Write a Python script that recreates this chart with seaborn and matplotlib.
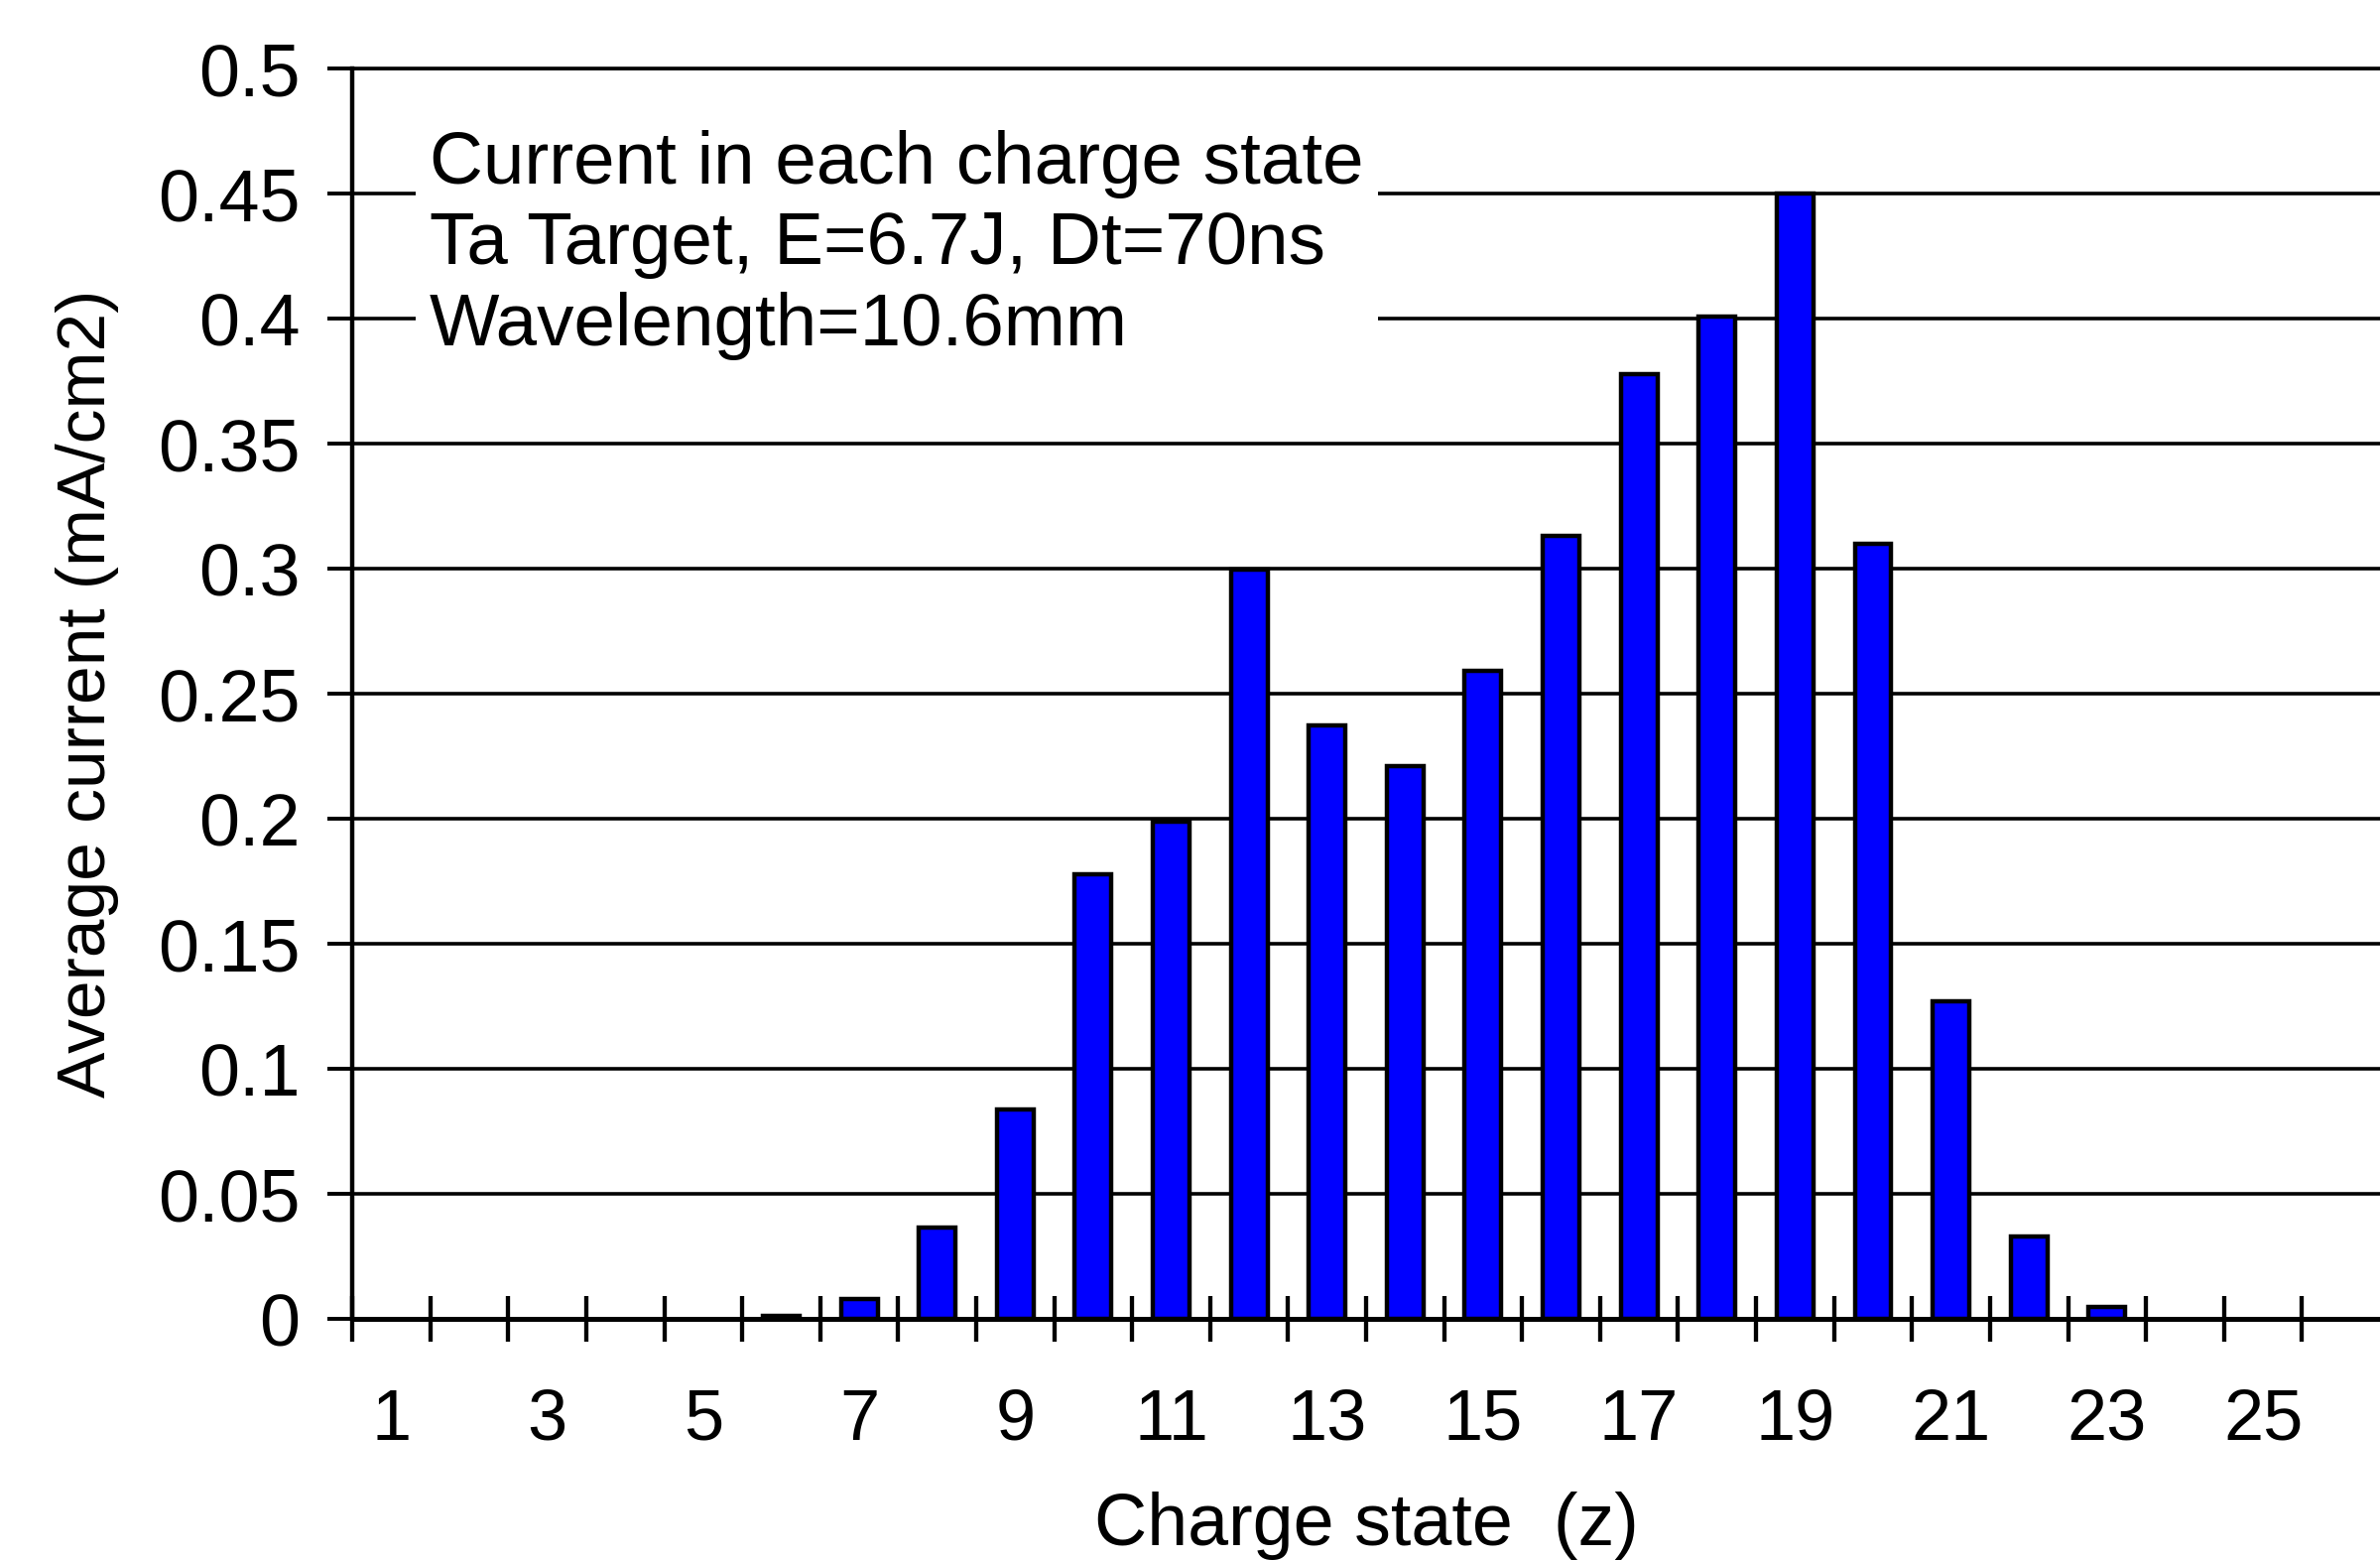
import numpy as np
import pandas as pd
import matplotlib
matplotlib.use("Agg")
import matplotlib.pyplot as plt
import seaborn as sns

# data
charge_state = list(range(1, 27))
current = [0, 0, 0, 0, 0, 0.0012, 0.0079, 0.0365, 0.0838, 0.178,
           0.1987, 0.2995, 0.2375, 0.221, 0.259, 0.313, 0.378, 0.401,
           0.450, 0.310, 0.127, 0.0328, 0.0049, 0, 0, 0]
y_ticks = [0, 0.05, 0.1, 0.15, 0.2, 0.25, 0.3, 0.35, 0.4, 0.45, 0.5]
x_labels = [str(z) for z in charge_state if z % 2 == 1]
note = "Current in each charge state\nTa Target, E=6.7J, Dt=70ns\nWavelength=10.6mm"

df = pd.DataFrame({"z": charge_state, "current": current})

sns.set_style("white")
plt.rcParams["font.family"] = ["Liberation Sans", "DejaVu Sans"]
plt.rcParams.update({"text.color": "black", "axes.labelcolor": "black",
                     "xtick.color": "black", "ytick.color": "black"})

fig = plt.figure(figsize=(23.99, 15.72), dpi=100)
ax = fig.add_axes([0.148, 0.1545, 0.852, 0.8015])

sns.barplot(data=df, x="z", y="current", color="#0000ff", saturation=1,
            width=0.47, edgecolor="black", linewidth=3.2, ax=ax, zorder=3)

# empty charge states draw nothing
for p in ax.patches:
    if p.get_height() == 0:
        p.set_visible(False)

ax.set_xlim(-0.5, len(charge_state) - 0.5)
ax.set_ylim(0, 0.5)

# grid lines at every y tick
ax.set_yticks(y_ticks, labels=[f"{v:g}" for v in y_ticks])
ax.yaxis.grid(True, color="black", linewidth=2.6)
ax.xaxis.grid(False)
ax.set_axisbelow(True)

# tick marks between categories, labels on odd categories
n = len(charge_state)
bounds = np.arange(-0.5, n - 1, 1.0)
ax.set_xticks(bounds, labels=[""] * len(bounds))
odd_pos = [i for i, z in enumerate(charge_state) if z % 2 == 1]
ax.set_xticks(odd_pos, labels=x_labels, minor=True)

ax.tick_params(axis="x", which="major", direction="inout", length=33,
               width=3.1, color="black")
ax.tick_params(axis="x", which="minor", length=0, pad=50, labelsize=52)
ax.tick_params(axis="y", which="major", direction="out", length=18,
               width=2.8, color="black", pad=20, labelsize=53)
ax.tick_params(left=True, bottom=True)

ax.spines["right"].set_visible(False)
ax.spines["top"].set_linewidth(2.6)
ax.spines["left"].set_linewidth(3.2)
ax.spines["bottom"].set_linewidth(3.6)
for s in ax.spines.values():
    s.set_color("black")

ax.set_xlabel("Charge state  (z)", fontsize=53, labelpad=27)
ax.set_ylabel("Average current (mA/cm2)", fontsize=50, labelpad=28)

ax.text(0.038, 0.951, note, transform=ax.transAxes, fontsize=53.7,
        ha="left", va="top", linespacing=1.23, zorder=4,
        bbox=dict(facecolor="white", edgecolor="none", pad=10))

fig.savefig("out.png", dpi=100)
